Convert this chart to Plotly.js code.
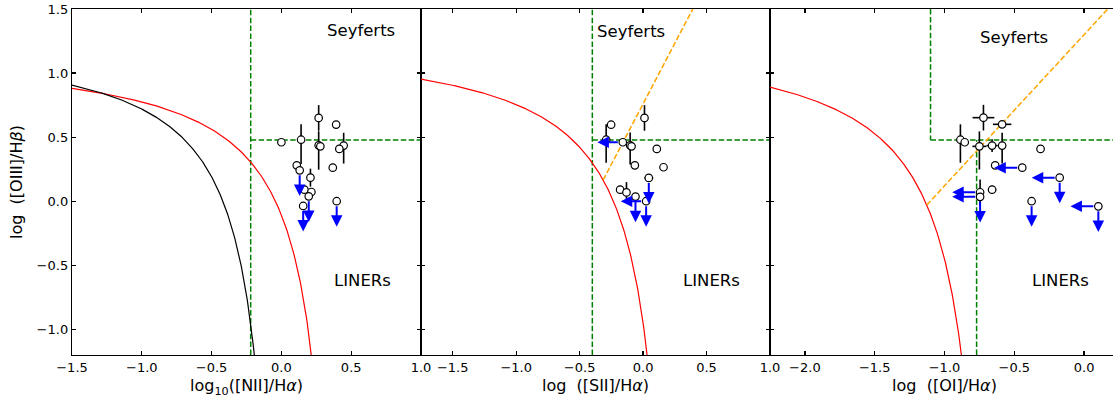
<!DOCTYPE html>
<html><head><meta charset="utf-8">
<script src="https://cdn.plot.ly/plotly-3.0.1.min.js"></script>
<style>html,body{margin:0;padding:0;overflow:hidden;background:#fff}#chart{width:1120px;height:400px}</style>
</head><body><div id="chart"></div>
<script>
// ---------- Panel 1: [NII]/Halpha ----------
const nii_x   = [0.00, 0.141, 0.267, 0.267, 0.279, 0.392, 0.446, 0.415, 0.110, 0.131, 0.368, 0.208, 0.165, 0.215, 0.196, 0.156, 0.396];
const nii_y   = [0.46, 0.48, 0.65, 0.436, 0.428, 0.598, 0.434, 0.408, 0.28, 0.241, 0.262, 0.184, 0.09, 0.072, 0.038, -0.037, 0.0];
const nii_eyp = [0, 0.12, 0.10, 0.11, 0, 0, 0.10, 0, 0, 0, 0, 0.07, 0, 0, 0, 0, 0];
const nii_eym = [0, 0.19, 0.10, 0.19, 0, 0, 0.14, 0, 0, 0, 0, 0.07, 0, 0, 0, 0, 0];
const nii_upY = [0,0,0,0,0,0,0,0,0,1,0,0,0,0,1,1,1];

// ---------- Panel 2: [SII]/Halpha ----------
const sii_x   = [-0.252, -0.291, -0.160, -0.102, -0.091, 0.011, -0.065, 0.108, 0.161, 0.045, -0.181, -0.131, -0.060, 0.024];
const sii_y   = [0.597, 0.48, 0.46, 0.436, 0.428, 0.65, 0.28, 0.408, 0.265, 0.182, 0.09, 0.069, 0.036, 0.0];
const sii_ex  = [0, 0, 0, 0, 0, 0, 0, 0, 0, 0.035, 0.03, 0, 0, 0];
const sii_eyp = [0, 0.12, 0, 0.10, 0, 0.10, 0, 0, 0, 0, 0.03, 0.08, 0, 0];
const sii_eym = [0, 0.18, 0, 0.15, 0, 0.10, 0, 0, 0, 0, 0.03, 0.06, 0, 0];
const sii_upY = [0,0,0,0,0,0,0,0,0,1,0,0,1,1];
const sii_upX = [0,0,1,0,0,0,0,0,0,0,0,0,0,1];

// ---------- Panel 3: [OI]/Halpha ----------
const oi_x   = [-0.886, -0.855, -0.721, -0.587, -0.750, -0.659, -0.587, -0.312, -0.637, -0.443, -0.175, -0.745, -0.745, -0.659, -0.376, 0.102];
const oi_y   = [0.48, 0.46, 0.652, 0.60, 0.428, 0.434, 0.434, 0.408, 0.28, 0.262, 0.184, 0.07, 0.034, 0.09, 0.0, -0.04];
const oi_ex  = [0, 0, 0.078, 0.066, 0.05, 0.04, 0, 0, 0, 0, 0, 0, 0, 0.03, 0, 0];
const oi_eyp = [0.12, 0, 0.10, 0, 0.117, 0.05, 0.10, 0, 0, 0, 0, 0.10, 0, 0.03, 0, 0];
const oi_eym = [0.18, 0, 0.10, 0, 0.181, 0.05, 0.14, 0, 0, 0, 0, 0.10, 0, 0.03, 0, 0];
const oi_upX = [0,0,0,0,0,0,0,0,0,1,1,1,1,0,0,1];
const oi_upY = [0,0,0,0,0,0,0,0,0,0,1,0,1,0,1,1];

// Demarcation line coefficients: y = a/(x-b)+c ; lines y = m x + q
const kauffNII = {a:0.61, b:0.05, c:1.30};
const kewNII   = {a:0.61, b:0.47, c:1.19};
const kewSII   = {a:0.72, b:0.32, c:1.30};
const kewOI    = {a:0.73, b:-0.59, c:1.33};
const seyLinSII = {m:1.89, q:0.76};
const seyLinOI  = {m:1.18, q:1.30};
const oiiiCut = 0.477;               // log 3
const niiCut = -0.22, siiCut = -0.40; // log 0.6, log 0.4
const oiCutSey = -1.10, oiCutLin = -0.77;

const xr1 = [-1.5, 1.0], xr2 = [-1.75, 1.0], xr3 = [-2.25, 0.25], yr = [-1.2, 1.5];
const limLen = 0.2;

function curve(k, xmin){
  const yStop = yr[0]-0.1;
  const xEnd = k.b + k.a/(yStop - k.c);
  const xs=[], ys=[]; const n=300;
  for(let i=0;i<=n;i++){ const x = xmin + (xEnd-xmin)*i/n; xs.push(x); ys.push(k.a/(x-k.b)+k.c); }
  return {xs, ys};
}
function meet(k, l, lo){
  let hi = k.b - 1e-4; const f = x => l.m*x + l.q - (k.a/(x-k.b)+k.c);
  for(let i=0;i<80;i++){ const mid=(lo+hi)/2; if (f(lo)*f(mid) <= 0) hi = mid; else lo = mid; }
  return (lo+hi)/2;
}

const dashG = '5.5px,2.4px';
const traces = [];
function line(xs, ys, xa, ya, color, width, dash){
  traces.push({type:'scatter', mode:'lines', x:xs, y:ys, xaxis:xa, yaxis:ya, hoverinfo:'skip', showlegend:false,
    line:{color:color, width:width, dash:dash||'solid'}});
}
// Panel 1 lines
line([niiCut, niiCut], yr, 'x', 'y', '#008000', 1.5, dashG);
line([niiCut, xr1[1]], [oiiiCut, oiiiCut], 'x', 'y', '#008000', 1.5, dashG);
let c = curve(kewNII, xr1[0]); line(c.xs, c.ys, 'x', 'y', '#ff0000', 1.2);
c = curve(kauffNII, xr1[0]); line(c.xs, c.ys, 'x', 'y', '#000000', 1.2);
// Panel 2 lines
line([siiCut, siiCut], yr, 'x2', 'y2', '#008000', 1.5, dashG);
line([siiCut, xr2[1]], [oiiiCut, oiiiCut], 'x2', 'y2', '#008000', 1.5, dashG);
c = curve(kewSII, xr2[0]); line(c.xs, c.ys, 'x2', 'y2', '#ff0000', 1.2);
let xs0 = meet(kewSII, seyLinSII, -1.0), xs1 = (yr[1]-seyLinSII.q)/seyLinSII.m;
line([xs0, xs1], [seyLinSII.m*xs0+seyLinSII.q, yr[1]], 'x2', 'y2', '#ffa500', 1.5, dashG);
// Panel 3 lines
line([oiCutLin, oiCutLin], [yr[0], oiiiCut], 'x3', 'y3', '#008000', 1.5, dashG);
line([oiCutSey, oiCutSey], [yr[1], oiiiCut], 'x3', 'y3', '#008000', 1.5, dashG);
line([oiCutSey, xr3[1]], [oiiiCut, oiiiCut], 'x3', 'y3', '#008000', 1.5, dashG);
c = curve(kewOI, xr3[0]); line(c.xs, c.ys, 'x3', 'y3', '#ff0000', 1.2);
xs0 = meet(kewOI, seyLinOI, -1.5); xs1 = (yr[1]-seyLinOI.q)/seyLinOI.m;
line([xs0, xs1], [seyLinOI.m*xs0+seyLinOI.q, yr[1]], 'x3', 'y3', '#ffa500', 1.5, dashG);

function pts(x, y, ex, eyp, eym, xa, ya){
  const t = {type:'scatter', mode:'markers', x:x, y:y, xaxis:xa, yaxis:ya, showlegend:false, hoverinfo:'x+y',
    marker:{symbol:'circle', size:7.5, color:'#ffffff', line:{color:'#000000', width:1.2}},
    error_y:{type:'data', symmetric:false, array:eyp, arrayminus:eym, width:0, thickness:1.6, color:'#000000'}};
  if (ex) t.error_x = {type:'data', symmetric:true, array:ex, width:0, thickness:1.6, color:'#000000'};
  traces.push(t);
}
pts(nii_x, nii_y, null, nii_eyp, nii_eym, 'x', 'y');
pts(sii_x, sii_y, sii_ex, sii_eyp, sii_eym, 'x2', 'y2');
pts(oi_x, oi_y, oi_ex, oi_eyp, oi_eym, 'x3', 'y3');

const annotations = [];
function arrows(x, y, upX, upY, xa, ya){
  for (let i=0;i<x.length;i++){
    const base = {xref:xa, yref:ya, axref:xa, ayref:ya, text:'', showarrow:true, arrowhead:2, arrowsize:1.15,
      arrowwidth:2, arrowcolor:'#0000ff', startstandoff:3.5, standoff:0, ax:x[i], ay:y[i]};
    if (upY && upY[i]) annotations.push(Object.assign({}, base, {x:x[i], y:y[i]-limLen}));
    if (upX && upX[i]) annotations.push(Object.assign({}, base, {x:x[i]-limLen, y:y[i]}));
  }
}
arrows(nii_x, nii_y, null, nii_upY, 'x', 'y');
arrows(sii_x, sii_y, sii_upX, sii_upY, 'x2', 'y2');
arrows(oi_x, oi_y, oi_upX, oi_upY, 'x3', 'y3');

const lab = (t, x, y, xa, ya) => ({text:t, x:x, y:y, xref:xa, yref:ya, showarrow:false,
  font:{family:'DejaVu Sans', size:16.5, color:'#000'}});
annotations.push(lab('Seyferts', 0.572, 1.33, 'x', 'y'), lab('LINERs', 0.578, -0.62, 'x', 'y'),
  lab('Seyferts', -0.099, 1.325, 'x2', 'y2'), lab('LINERs', 0.542, -0.62, 'x2', 'y2'),
  lab('Seyferts', -0.504, 1.274, 'x3', 'y3'), lab('LINERs', -0.168, -0.62, 'x3', 'y3'));

const tf = {family:'DejaVu Sans', size:13, color:'#000'};
const ttf = {family:'DejaVu Sans', size:16, color:'#000'};
const ax = (o) => Object.assign({showline:true, linecolor:'#000', linewidth:1.2, ticks:'inside', ticklen:4, tickwidth:1.2,
  tickcolor:'#000', mirror:'ticks', showgrid:false, zeroline:false, tickfont:tf, tickformat:'.1f', automargin:false,
  fixedrange:true}, o);
const layout = {
  width:1120, height:400, margin:{l:72, r:1, t:9, b:45}, paper_bgcolor:'#fff', plot_bgcolor:'#fff',
  font:{family:'DejaVu Sans', color:'#000'}, showlegend:false,
  xaxis: ax({domain:[0, 1/3], range:xr1, anchor:'y', dtick:0.5, tick0:0,
    title:{text:'log<sub>10</sub>([NII]/H<i>α</i>)', font:ttf, standoff:6}}),
  xaxis2: ax({domain:[1/3, 2/3], range:xr2, anchor:'y2', dtick:0.5, tick0:0,
    title:{text:'log\u00a0\u00a0([SII]/H<i>α</i>)', font:ttf, standoff:6}}),
  xaxis3: ax({domain:[2/3, 1], range:xr3, anchor:'y3', dtick:0.5, tick0:0,
    title:{text:'log\u00a0\u00a0([OI]/H<i>α</i>)', font:ttf, standoff:6}}),
  yaxis: ax({domain:[0,1], range:yr, anchor:'x', dtick:0.5, tick0:0,
    title:{text:'log\u00a0\u00a0([OIII]/H<i>β</i>)', font:ttf, standoff:10}}),
  yaxis2: ax({domain:[0,1], range:yr, anchor:'x2', dtick:0.5, tick0:0, showticklabels:false}),
  yaxis3: ax({domain:[0,1], range:yr, anchor:'x3', dtick:0.5, tick0:0, showticklabels:false}),
  annotations: annotations
};
Plotly.newPlot('chart', traces, layout, {displayModeBar:false, staticPlot:true});
</script></body></html>
